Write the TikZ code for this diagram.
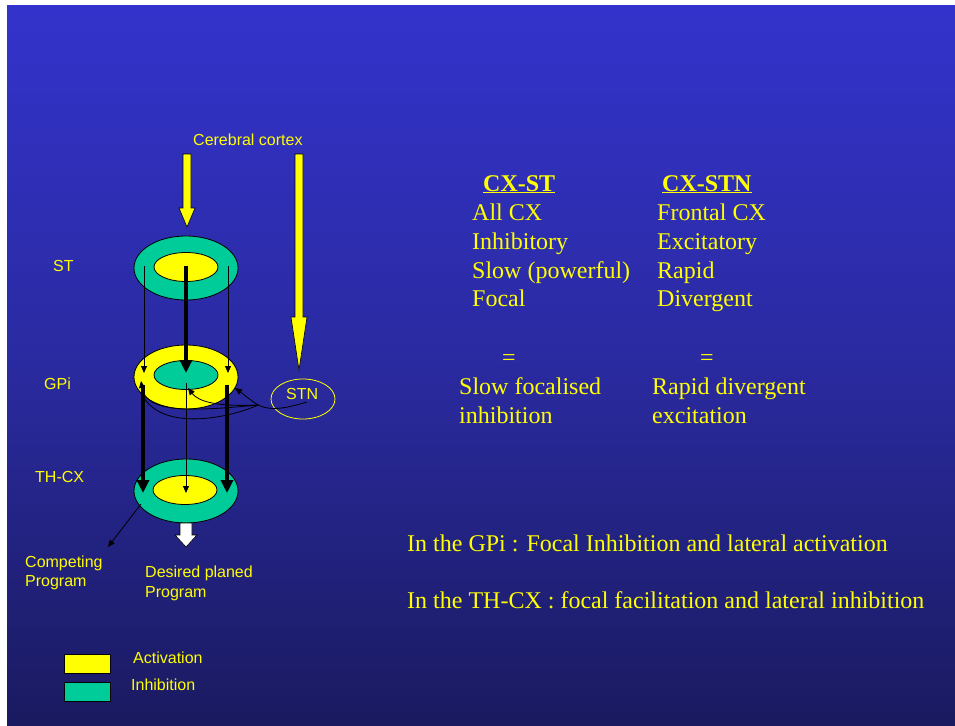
\documentclass[tikz,border=0pt]{standalone}
\usepackage{fontspec}
\setmainfont{Liberation Serif}
\setsansfont{Liberation Sans}
\usetikzlibrary{shapes.geometric,arrows.meta,calc}
\definecolor{bgtop}{RGB}{51,51,204}
\definecolor{bgbot}{RGB}{26,26,96}
\definecolor{act}{RGB}{255,255,0}
\definecolor{inh}{RGB}{0,204,153}
\begin{document}
\begin{tikzpicture}[x=1pt,y=-1pt,
 sanslbl/.style={font=\sffamily\fontsize{16}{19}\selectfont, text=act, anchor=base west, inner sep=0},
 seriflbl/.style={font=\fontsize{24}{29}\selectfont, text=act, anchor=base west, inner sep=0},
 outerring/.style={ellipse, draw=black, line width=0.8pt, minimum width=104pt, minimum height=64pt, inner sep=0},
 innerring/.style={ellipse, draw=black, line width=0.8pt, minimum width=64pt, minimum height=29pt, inner sep=0},
 bigarr/.style={line width=3.6pt, -{Triangle[width=12pt,length=13pt]}},
 thinarr/.style={line width=0.8pt, -{Triangle[width=6pt,length=7pt]}},
 thinline/.style={line width=0.8pt},
 yarrow/.style={fill=act, draw=black, line width=0.6pt},
 legendbox/.style={draw=black, line width=0.8pt},
]
\useasboundingbox (0,0) rectangle (955,725);
\fill[white] (0,0) rectangle (955,725);
\shade[top color=bgtop, bottom color=bgbot, middle color={rgb,255:red,42;green,42;blue,160}] (7,6) rectangle (955,725);

% cortex label and yellow arrows
\node[sanslbl] (cortex) at (193,145) {Cerebral cortex};
\filldraw[yarrow] (183,154) -- (191,154) -- (191,208) -- (195,208) -- (187,227) -- (179,208) -- (183,208) -- cycle;
\filldraw[yarrow] (295,154) -- (303,154) -- (303,317) -- (307,317) -- (299,370) -- (291,317) -- (295,317) -- cycle;

% rings
\node[outerring, fill=inh] (st) at (186,268) {};
\node[innerring, fill=act] (sti) at (186,267) {};
\node[outerring, fill=act] (gp) at (186,377) {};
\node[innerring, fill=inh] (gpi) at (186,375) {};
\node[outerring, fill=inh] (th) at (186,491) {};
\node[innerring, fill=act] (thi) at (185,490) {};

% level labels
\node[sanslbl] (stlbl) at (53,271) {ST};
\node[sanslbl] (gplbl) at (44,389) {GPi};
\node[sanslbl] (thlbl) at (35,482) {TH-CX};

% ST -> GPi
\coordinate (a1) at (186,266); \coordinate (a1e) at (186,373);
\coordinate (a2) at (144,266); \coordinate (a2e) at (144,373);
\coordinate (a3) at (228,266); \coordinate (a3e) at (228,373);
\draw[bigarr] (a1) -- (a1e);
\draw[thinarr] (a2) -- (a2e);
\draw[thinarr] (a3) -- (a3e);

% GPi -> TH-CX
\coordinate (b1) at (143,385); \coordinate (b1e) at (143,493);
\coordinate (b2) at (227,385); \coordinate (b2e) at (227,493);
\coordinate (b3) at (186,383); \coordinate (b3e) at (186,493);
\draw[bigarr] (b1) -- (b1e);
\draw[bigarr] (b2) -- (b2e);
\draw[thinarr] (b3) -- (b3e);

% STN
\node[ellipse, draw=act, line width=0.8pt, minimum width=64pt, minimum height=40pt, inner sep=0] (stn) at (303,399) {};
\node[sanslbl] (stnlbl) at (286,399) {STN};
\coordinate (stnc) at (307,402);
\coordinate (junc) at (258,405);
\coordinate (t1) at (188,388);
\coordinate (t2) at (235,388);
\coordinate (t3) at (141,381);
\coordinate (t4) at (144,398);
\draw[thinline] (stnc) .. controls (290,407) and (272,412) .. (junc);
\draw[thinarr] (junc) .. controls (215,407) and (198,401) .. (t1);
\draw[thinarr] (junc) .. controls (250,400) and (242,393) .. (t2);
\draw[thinarr] (junc) .. controls (195,411) and (146,414) .. (t3);
\draw[thinline] (junc) .. controls (232,417) and (166,432) .. (t4);

% outputs
\coordinate (c1) at (141,504); \coordinate (c1e) at (108,547);
\draw[thinarr] (c1) -- (c1e);
\filldraw[fill=white, draw=black, line width=0.6pt] (180,523) -- (192,523) -- (192,535) -- (197,535) -- (186,547) -- (175,535) -- (180,535) -- cycle;
\node[sanslbl] (comp1) at (25,567) {Competing};
\node[sanslbl] (comp2) at (25,586) {Program};
\node[sanslbl] (des1) at (145,577) {Desired planed};
\node[sanslbl] (des2) at (145,597) {Program};

% legend
\filldraw[legendbox, fill=act] (64,654) rectangle (110,673);
\filldraw[legendbox, fill=inh] (64,682) rectangle (110,701);
\node[sanslbl] (lact) at (133,663) {Activation};
\node[sanslbl] (linh) at (131,690) {Inhibition};

% right text
\node[seriflbl] (h1) at (483,191) {\textbf{\underline{CX-ST}}};
\node[seriflbl] (h2) at (662,191) {\textbf{\underline{CX-STN}}};
\node[seriflbl] (l1a) at (472,220) {All CX};
\node[seriflbl] (l1b) at (472,249) {Inhibitory};
\node[seriflbl] (l1c) at (472,278) {Slow (powerful)};
\node[seriflbl] (l1d) at (472,306) {Focal};
\node[seriflbl] (l2a) at (657,220) {Frontal CX};
\node[seriflbl] (l2b) at (657,249) {Excitatory};
\node[seriflbl] (l2c) at (657,278) {Rapid};
\node[seriflbl] (l2d) at (657,306) {Divergent};
\node[seriflbl] (eq1) at (502,365) {=};
\node[seriflbl] (eq2) at (700,365) {=};
\node[seriflbl] (s1a) at (459,394) {Slow focalised};
\node[seriflbl] (s1b) at (459,423) {inhibition};
\node[seriflbl] (s2a) at (652,394) {Rapid divergent};
\node[seriflbl] (s2b) at (652,423) {excitation};
\node[seriflbl] (g1) at (407,551) {In the GPi : Focal Inhibition and lateral activation};
\node[seriflbl] (g2) at (407,608) {In the TH-CX : focal facilitation and lateral inhibition};
\end{tikzpicture}
\end{document}
